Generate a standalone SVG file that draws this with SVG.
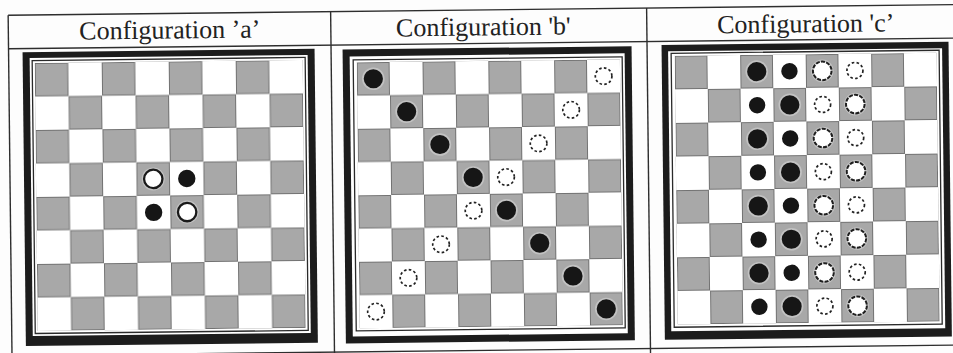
<svg xmlns="http://www.w3.org/2000/svg" width="953" height="353" viewBox="0 0 953 353">
<style>
.tl{stroke:#2e2e2e;stroke-width:1.4;fill:none}
.hd{font-family:"Liberation Serif","Times New Roman",serif;font-size:26px;fill:#222;text-anchor:middle}
.frm{fill:#1c1c1c}
.gap{fill:#fff}
.thin{fill:none;stroke:#2a2a2a;stroke-width:1.3}
.gsq{fill:#a8a8a8;stroke:#727272;stroke-width:1}
.halo{fill:#c2c2c2}
.bk{fill:#161616}
.wa{fill:#fff;stroke:#1a1a1a;stroke-width:2.3}
.ws{fill:#fff;stroke:#1e1e1e;stroke-width:2;stroke-dasharray:4 1.3}
.wd{fill:#fff;stroke:#222;stroke-width:1.7;stroke-dasharray:2.6 2.3}
</style>
<defs>
<pattern id="chkA" patternUnits="userSpaceOnUse" x="36" y="58" width="67" height="67">
<rect class="gsq" x="0.5" y="0.5" width="32.5" height="32.5"/>
<rect class="gsq" x="34" y="34" width="32.5" height="32.5"/>
</pattern>
<pattern id="chkB" patternUnits="userSpaceOnUse" x="358" y="61" width="65.8" height="66.5">
<rect class="gsq" x="0.5" y="0.5" width="31.9" height="32.25"/>
<rect class="gsq" x="33.4" y="33.75" width="31.9" height="32.25"/>
</pattern>
<pattern id="chkC" patternUnits="userSpaceOnUse" x="676" y="58" width="65.5" height="67.2">
<rect class="gsq" x="0.5" y="0.5" width="31.75" height="32.6"/>
<rect class="gsq" x="33.25" y="34.1" width="31.75" height="32.6"/>
</pattern>
</defs>
<rect width="953" height="353" fill="#fdfdfd"/>
<g transform="rotate(-0.65 476 176)">
<g id="table">
<line class="tl" x1="10" y1="10" x2="958" y2="10"/>
<line class="tl" x1="10" y1="43.5" x2="958" y2="43.5"/>
<line class="tl" x1="10" y1="350.5" x2="958" y2="350.5"/>
<line class="tl" x1="10" y1="10" x2="10" y2="360"/>
<line class="tl" x1="332.5" y1="10" x2="332.5" y2="360"/>
<line class="tl" x1="648.5" y1="10" x2="648.5" y2="360"/>
</g>
<g id="header-a"><text class="hd" x="171.5" y="35">Configuration ’a’</text></g>
<g id="header-b"><text class="hd" x="485" y="35.5">Configuration 'b'</text></g>
<g id="header-c"><text class="hd" x="807.5" y="36">Configuration 'c’</text></g>

<g id="board-a">
<rect class="frm" x="24" y="47" width="292" height="294"/>
<rect class="gap" x="31" y="53" width="278" height="278"/>
<rect class="thin" x="33.5" y="55.5" width="273" height="273"/>
<rect x="36" y="58" width="268" height="268" fill="url(#chkA)"/>
<circle class="halo" cx="153.25" cy="175.25" r="11.5"/>
<circle class="halo" cx="186.75" cy="208.75" r="11.5"/>
<circle class="wa" cx="153.25" cy="175.25" r="9.2"/>
<circle class="bk" cx="186.75" cy="175.25" r="8.7"/>
<circle class="bk" cx="153.25" cy="208.75" r="8.7"/>
<circle class="wa" cx="186.75" cy="208.75" r="9.2"/>
</g>

<g id="board-b">
<rect class="frm" x="344" y="48" width="289" height="294"/>
<rect class="gap" x="351" y="55" width="275" height="280"/>
<rect class="thin" x="354.5" y="58.5" width="269" height="271"/>
<rect x="358" y="61" width="263.2" height="266" fill="url(#chkB)"/>
<circle class="halo" cx="374.45" cy="77.6" r="11.3"/>
<circle class="halo" cx="407.35" cy="110.9" r="11.3"/>
<circle class="halo" cx="440.25" cy="144.1" r="11.3"/>
<circle class="halo" cx="473.15" cy="177.4" r="11.3"/>
<circle class="halo" cx="506.05" cy="210.6" r="11.3"/>
<circle class="halo" cx="538.95" cy="243.9" r="11.3"/>
<circle class="halo" cx="571.85" cy="277.1" r="11.3"/>
<circle class="halo" cx="604.75" cy="310.4" r="11.3"/>
<circle class="bk" cx="374.45" cy="77.6" r="9.6"/>
<circle class="bk" cx="407.35" cy="110.9" r="9.6"/>
<circle class="bk" cx="440.25" cy="144.1" r="9.6"/>
<circle class="bk" cx="473.15" cy="177.4" r="9.6"/>
<circle class="bk" cx="506.05" cy="210.6" r="9.6"/>
<circle class="bk" cx="538.95" cy="243.9" r="9.6"/>
<circle class="bk" cx="571.85" cy="277.1" r="9.6"/>
<circle class="bk" cx="604.75" cy="310.4" r="9.6"/>
<circle class="wd" cx="604.75" cy="77.6" r="8.3"/>
<circle class="wd" cx="571.85" cy="110.9" r="8.3"/>
<circle class="wd" cx="538.95" cy="144.1" r="8.3"/>
<circle class="wd" cx="506.05" cy="177.4" r="8.3"/>
<circle class="wd" cx="473.15" cy="210.6" r="8.3"/>
<circle class="wd" cx="440.25" cy="243.9" r="8.3"/>
<circle class="wd" cx="407.35" cy="277.1" r="8.3"/>
<circle class="wd" cx="374.45" cy="310.4" r="8.3"/>
</g>

<g id="board-c">
<rect class="frm" x="663" y="47" width="287" height="295"/>
<rect class="gap" x="669.5" y="53.5" width="274" height="280"/>
<rect class="thin" x="672.5" y="55.5" width="268" height="274"/>
<rect x="676" y="58" width="262" height="268.8" fill="url(#chkC)"/>
<g id="halos-c">
<circle class="halo" cx="757.9" cy="74.8" r="11.3"/>
<circle class="halo" cx="823.4" cy="74.8" r="11.3"/>
<circle class="halo" cx="790.6" cy="108.4" r="11.3"/>
<circle class="halo" cx="856.1" cy="108.4" r="11.3"/>
<circle class="halo" cx="757.9" cy="142" r="11.3"/>
<circle class="halo" cx="823.4" cy="142" r="11.3"/>
<circle class="halo" cx="790.6" cy="175.6" r="11.3"/>
<circle class="halo" cx="856.1" cy="175.6" r="11.3"/>
<circle class="halo" cx="757.9" cy="209.2" r="11.3"/>
<circle class="halo" cx="823.4" cy="209.2" r="11.3"/>
<circle class="halo" cx="790.6" cy="242.8" r="11.3"/>
<circle class="halo" cx="856.1" cy="242.8" r="11.3"/>
<circle class="halo" cx="757.9" cy="276.4" r="11.3"/>
<circle class="halo" cx="823.4" cy="276.4" r="11.3"/>
<circle class="halo" cx="790.6" cy="310" r="11.3"/>
<circle class="halo" cx="856.1" cy="310" r="11.3"/>
</g>
<circle class="bk" cx="757.9" cy="74.8" r="9.6"/>
<circle class="bk" cx="790.6" cy="74.8" r="8.2"/>
<circle class="ws" cx="823.4" cy="74.8" r="9.3"/>
<circle class="wd" cx="856.1" cy="74.8" r="8"/>
<circle class="bk" cx="757.9" cy="108.4" r="8.2"/>
<circle class="bk" cx="790.6" cy="108.4" r="9.6"/>
<circle class="wd" cx="823.4" cy="108.4" r="8"/>
<circle class="ws" cx="856.1" cy="108.4" r="9.3"/>
<circle class="bk" cx="757.9" cy="142" r="9.6"/>
<circle class="bk" cx="790.6" cy="142" r="8.2"/>
<circle class="ws" cx="823.4" cy="142" r="9.3"/>
<circle class="wd" cx="856.1" cy="142" r="8"/>
<circle class="bk" cx="757.9" cy="175.6" r="8.2"/>
<circle class="bk" cx="790.6" cy="175.6" r="9.6"/>
<circle class="wd" cx="823.4" cy="175.6" r="8"/>
<circle class="ws" cx="856.1" cy="175.6" r="9.3"/>
<circle class="bk" cx="757.9" cy="209.2" r="9.6"/>
<circle class="bk" cx="790.6" cy="209.2" r="8.2"/>
<circle class="ws" cx="823.4" cy="209.2" r="9.3"/>
<circle class="wd" cx="856.1" cy="209.2" r="8"/>
<circle class="bk" cx="757.9" cy="242.8" r="8.2"/>
<circle class="bk" cx="790.6" cy="242.8" r="9.6"/>
<circle class="wd" cx="823.4" cy="242.8" r="8"/>
<circle class="ws" cx="856.1" cy="242.8" r="9.3"/>
<circle class="bk" cx="757.9" cy="276.4" r="9.6"/>
<circle class="bk" cx="790.6" cy="276.4" r="8.2"/>
<circle class="ws" cx="823.4" cy="276.4" r="9.3"/>
<circle class="wd" cx="856.1" cy="276.4" r="8"/>
<circle class="bk" cx="757.9" cy="310" r="8.2"/>
<circle class="bk" cx="790.6" cy="310" r="9.6"/>
<circle class="wd" cx="823.4" cy="310" r="8"/>
<circle class="ws" cx="856.1" cy="310" r="9.3"/>
</g>
</g>
</svg>
